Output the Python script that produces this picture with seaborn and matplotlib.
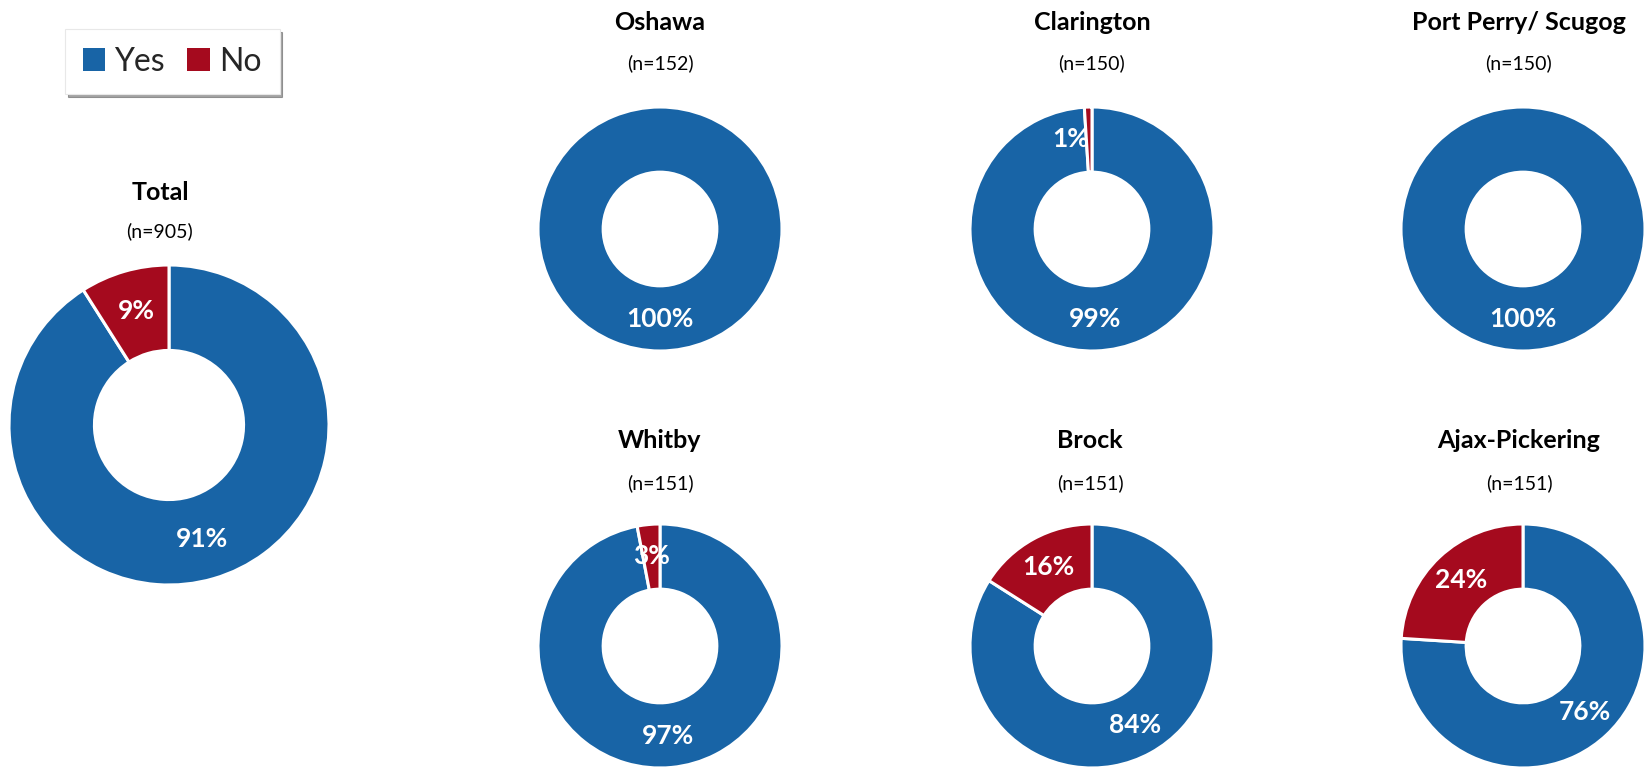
import matplotlib
matplotlib.use('Agg')
import matplotlib.pyplot as plt
from matplotlib.patches import Patch
import seaborn as sns

sns.set_style('white')
plt.rcParams['font.family'] = ['Lato', 'DejaVu Sans']

# data
regions = ['Total', 'Oshawa', 'Clarington', 'Port Perry/ Scugog', 'Whitby', 'Brock', 'Ajax-Pickering']
n_sizes = [905, 152, 150, 150, 151, 151, 151]
yes_pct = [91, 100, 99, 100, 97, 84, 76]
no_pct = [9, 0, 1, 0, 3, 16, 24]
answers = ['Yes', 'No']

BLUE = '#1864A6'
RED = '#A50A1E'
colors = [BLUE, RED]

W, H = 1649, 767
fig = plt.figure(figsize=(W / 100, H / 100), dpi=100)

# layout in pixels: centre x, centre y, radius, title y, n y
layout = [
    (169, 425, 160, 192, 231),
    (660, 229, 122, 23, 63),
    (1092, 229, 122, 23, 63),
    (1523, 229, 122, 23, 63),
    (660, 646, 122, 440, 483),
    (1092, 646, 122, 440, 483),
    (1523, 646, 122, 440, 483),
]
title_x = [160, 660, 1092, 1519, 660, 1090, 1519]


def fmt(p):
    return f'{p:.0f}%' if p > 0.5 else ''


for i, name in enumerate(regions):
    cx, cy, r, ty, ny = layout[i]
    ax = fig.add_axes([(cx - r) / W, 1 - (cy + r) / H, 2 * r / W, 2 * r / H])
    vals = [yes_pct[i], no_pct[i]]
    keep = [k for k, v in enumerate(vals) if v > 0]
    wedges, texts, autotexts = ax.pie(
        [vals[k] for k in keep], colors=[colors[k] for k in keep],
        startangle=90, counterclock=False, autopct=fmt, pctdistance=0.74,
        wedgeprops=dict(width=0.534, edgecolor='white', linewidth=2.2),
        textprops=dict(color='white', fontsize=19, fontweight='bold'))
    # very thin slices: label is pushed to the left of the slice
    for k, t in zip(keep, autotexts):
        if vals[k] <= 1:
            t.set_ha('right')
    ax.set_xlim(-1, 1)
    ax.set_ylim(-1, 1)
    ax.set_aspect('equal')
    ax.axis('off')
    fig.text(title_x[i] / W, 1 - ty / H, name, ha='center', va='center',
             fontsize=18, fontweight='bold', color='black')
    fig.text(title_x[i] / W, 1 - ny / H, f'(n={n_sizes[i]})', ha='center', va='center',
             fontsize=14, color='black')

handles = [Patch(facecolor=c, edgecolor='none') for c in colors]
leg = fig.legend(handles, answers, loc='upper left', bbox_to_anchor=(65 / W, 1 - 29 / H),
                 ncol=2, fontsize=23, frameon=True, fancybox=False, shadow=True,
                 handlelength=0.7, handleheight=0.7, handletextpad=0.3,
                 columnspacing=0.7, borderpad=0.55, borderaxespad=0)
leg.get_frame().set_edgecolor('#e8e8e8')
leg.get_frame().set_linewidth(0.8)

fig.savefig('out.png', dpi=100)
